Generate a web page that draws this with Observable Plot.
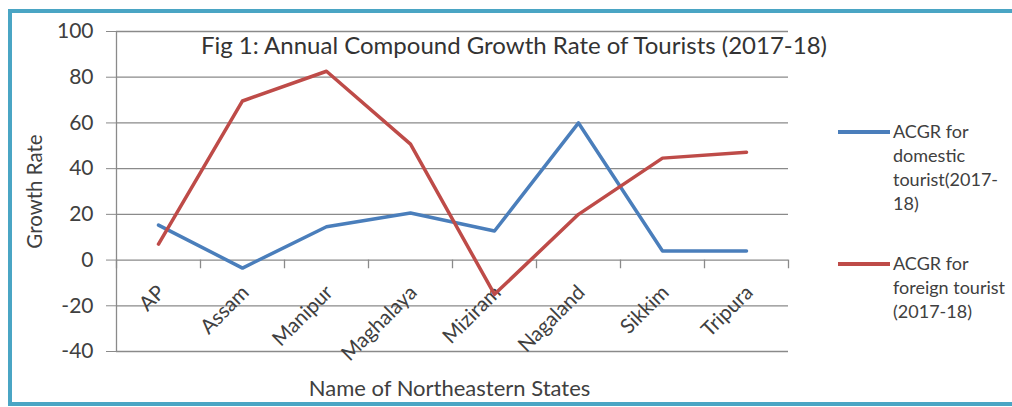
<!DOCTYPE html>
<html>
<head>
<meta charset="utf-8">
<script src="https://cdn.jsdelivr.net/npm/d3@7"></script>
<script src="https://cdn.jsdelivr.net/npm/@observablehq/plot@0.6"></script>
<style>
  html, body { margin: 0; padding: 0; background: #fff; overflow: hidden; }
  #wrap { position: relative; width: 1012px; height: 407px; overflow: hidden; font-family: Lato, "Open Sans", sans-serif; color: #404040; }
  .bar { position: absolute; background: #4aa5c4; pointer-events: none; }
  #chart { position: absolute; left: 0; top: 0; }
  .abs { position: absolute; white-space: nowrap; }
  #title { left: 0; width: 1028px; text-align: center; top: 30px; font-size: 24px; color: #333; }
  .leg-line { position: absolute; height: 4px; width: 52px; }
  .leg-text { position: absolute; font-size: 18px; line-height: 24px; color: #404040; white-space: nowrap; }
</style>
</head>
<body>
<div id="wrap">
  <div id="chart"></div>
  <div class="bar" style="left:8px; top:9px; width:1004px; height:4px;"></div>
  <div class="bar" style="left:8px; top:9px; width:4px; height:397px;"></div>
  <div class="bar" style="left:8px; top:402px; width:1004px; height:4px;"></div>
  <div id="title" class="abs">Fig 1: Annual Compound Growth Rate of Tourists (2017-18)</div>
  <div class="leg-line" style="left:838px; top:130px; background:#4a7ebb;"></div>
  <div class="leg-text" style="left:893px; top:119px;">ACGR for<br>domestic<br>tourist(2017-<br>18)</div>
  <div class="leg-line" style="left:838px; top:262px; background:#be4b48;"></div>
  <div class="leg-text" style="left:893px; top:251px;">ACGR for<br>foreign tourist<br>(2017-18)</div>
</div>
<script>
const states = ["AP", "Assam", "Manipur", "Maghalaya", "Miziram", "Nagaland", "Sikkim", "Tripura"];
const domestic = [15.3, -3.5, 14.6, 20.6, 12.7, 60, 4, 4];
const foreign = [7, 69.6, 82.6, 50.7, -15, 20, 44.6, 47.2];
const yTicks = [-40, -20, 0, 20, 40, 60, 80, 100];

const idx = states.map((_, i) => i);
const domData = idx.map(i => ({i, v: domestic[i]}));
const forData = idx.map(i => ({i, v: foreign[i]}));
const boundaries = d3.range(states.length + 1).map(i => i - 0.5);
const grid = yTicks.filter(t => t !== 0);

const chart = Plot.plot({
  width: 1012,
  height: 407,
  marginLeft: 116,
  marginRight: 224,
  marginTop: 31,
  marginBottom: 56,
  style: { fontFamily: "Lato, 'Open Sans', sans-serif", color: "#404040", background: "transparent" },
  x: { type: "linear", domain: [-0.5, states.length - 0.5], axis: null },
  y: { domain: [-40, 100], axis: null },
  marks: [
    Plot.ruleY(grid, { stroke: "#8a8a8a", strokeWidth: 1.3 }),
    Plot.ruleY([0], { stroke: "#8a8a8a", strokeWidth: 1.3 }),
    Plot.ruleX([-0.5], { y1: -40, y2: 100, stroke: "#8a8a8a", strokeWidth: 1.3 }),
    Plot.ruleX(boundaries, { x: d => d, y1: 0, y2: -3.8, stroke: "#8a8a8a", strokeWidth: 1.3 }),
    Plot.axisY({ ticks: yTicks, tickSize: 10, tickPadding: 13, tickFormat: d => String(d), fontSize: 21, stroke: "#8a8a8a", fill: "#404040", label: null }),
    Plot.text(idx, { x: d => d, y: () => 0, text: d => states[d], rotate: -45, textAnchor: "end", lineAnchor: "middle", dx: 3, dy: 29, fontSize: 20.5, fill: "#404040" }),
    Plot.text(["Growth Rate"], { frameAnchor: "left", textAnchor: "middle", dx: -81, dy: 0, rotate: -90, fontSize: 20.5, fill: "#404040" }),
    Plot.text(["Name of Northeastern States"], { frameAnchor: "bottom", dx: -3, dy: 44, fontSize: 22, fill: "#404040" }),
    Plot.line(domData, { x: "i", y: "v", stroke: "#4a7ebb", strokeWidth: 3.5 }),
    Plot.line(forData, { x: "i", y: "v", stroke: "#be4b48", strokeWidth: 3.5 })
  ]
});
document.getElementById("chart").appendChild(chart);
</script>
</body>
</html>
